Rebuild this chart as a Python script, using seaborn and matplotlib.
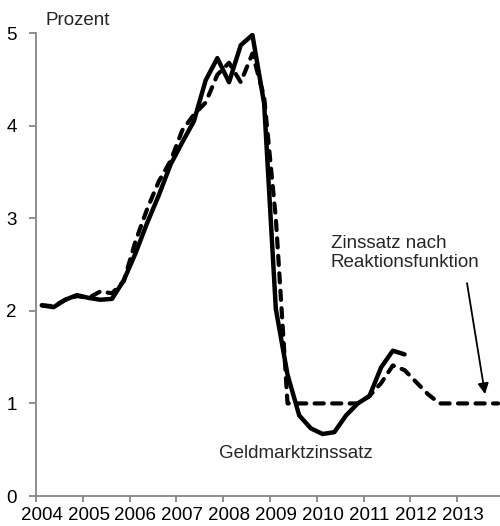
import numpy as np
import pandas as pd
import seaborn as sns
import matplotlib
matplotlib.use("Agg")
import matplotlib.pyplot as plt

# Quarterly series, 2004Q1 onwards (percent)
years = ["2004", "2005", "2006", "2007", "2008", "2009", "2010", "2011", "2012", "2013"]
geldmarktzins = [2.06, 2.04, 2.12, 2.17, 2.14, 2.12, 2.13, 2.33,
                 2.62, 2.95, 3.25, 3.58, 3.82, 4.05, 4.49, 4.73,
                 4.47, 4.87, 4.98, 4.24, 2.02, 1.31, 0.87, 0.73,
                 0.67, 0.69, 0.87, 1.00, 1.08, 1.39, 1.57, 1.53]
reaktionsfunktion = [2.06, 2.05, 2.12, 2.16, 2.14, 2.21, 2.19, 2.32,
                     2.75, 3.10, 3.40, 3.62, 3.95, 4.12, 4.25, 4.55,
                     4.68, 4.47, 4.78, 4.31, 3.00, 1.00, 1.00, 1.00,
                     1.00, 1.00, 1.00, 1.00, 1.08, 1.22, 1.41, 1.36,
                     1.23, 1.10, 1.00, 1.00, 1.00, 1.00, 1.00, 1.00]

sns.set_theme(style="white")
plt.rcParams["font.family"] = ["Liberation Sans", "DejaVu Sans"]

fig = plt.figure(figsize=(5.0, 5.26), dpi=100)
ax = fig.add_axes([0.072, 0.057, 0.928, 0.880])

# quarter k is centred at k + 0.5 on the category axis
df_g = pd.DataFrame({"q": np.arange(len(geldmarktzins)) + 0.5, "v": geldmarktzins})
df_r = pd.DataFrame({"q": np.arange(len(reaktionsfunktion)) + 0.5, "v": reaktionsfunktion})

sns.lineplot(data=df_r, x="q", y="v", ax=ax, color="black", lw=3.0,
             dashes=False)
ax.lines[-1].set_dashes([2.2, 2.0])
ax.lines[-1].set_dash_capstyle("round")
sns.lineplot(data=df_g, x="q", y="v", ax=ax, color="black", lw=3.2)
ax.lines[-1].set_solid_capstyle("round")
ax.lines[-1].set_solid_joinstyle("round")

ax.set_xlim(0, 39.66)
ax.set_ylim(0, 5)
ax.set_xlabel("")
ax.set_ylabel("")

grey = "#868686"
for side in ["top", "right"]:
    ax.spines[side].set_visible(False)
for side in ["left", "bottom"]:
    ax.spines[side].set_color(grey)
    ax.spines[side].set_linewidth(1.3)

fs = 13.5

# tick marks on year boundaries, labels on the first quarter of each year
ax.set_xticks(np.arange(0, 40, 4))
ax.set_xticklabels([])
ax.set_xticks(np.arange(0, 40, 4) + 0.5, minor=True)
ax.set_xticklabels(years, minor=True)
ax.tick_params(axis="x", which="major", direction="out", length=4, width=1.3,
               color=grey, bottom=True)
ax.tick_params(axis="x", which="minor", length=0, labelsize=fs, pad=8,
               labelcolor="black")
ax.set_yticks([0, 1, 2, 3, 4, 5])
ax.tick_params(axis="y", direction="out", length=5, width=1.3, color=grey,
               left=True, labelsize=fs, pad=9, labelcolor="black")

ax.text(0.85, 5.05, "Prozent", fontsize=fs, ha="left", va="bottom",
        transform=ax.transData, clip_on=False)
ax.text(22.2, 0.46, "Geldmarktzinssatz", fontsize=fs, ha="center", va="center")
ax.text(25.2, 2.62, "Zinssatz nach\nReaktionsfunktion", fontsize=fs,
        ha="left", va="center", linespacing=1.15)
ax.annotate("", xy=(38.38, 1.10), xytext=(36.84, 2.30),
            arrowprops=dict(arrowstyle="-|>", lw=1.3, color="black",
                            mutation_scale=16, shrinkA=0, shrinkB=0))

fig.savefig("out.png", dpi=100)
